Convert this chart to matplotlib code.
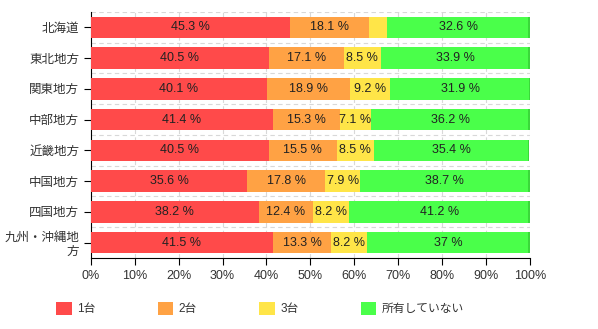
import numpy as np
from matplotlib import pyplot as plt
from matplotlib.patches import Patch

plt.rcParams['font.family'] = ['Liberation Sans', 'Noto Sans CJK JP', 'DejaVu Sans']

# data (percent)
regions = ['北海道', '東北地方', '関東地方', '中部地方', '近畿地方', '中国地方', '四国地方', '九州・沖縄地\n方']
one_car = [45.3, 40.5, 40.1, 41.4, 40.5, 35.6, 38.2, 41.5]
two_cars = [18.1, 17.1, 18.9, 15.3, 15.5, 17.8, 12.4, 13.3]
three_cars = [4.0, 8.5, 9.2, 7.1, 8.5, 7.9, 8.2, 8.2]
no_car = [32.6, 33.9, 31.9, 36.2, 35.4, 38.7, 41.2, 37.0]

series_names = ['1台', '2台', '3台', '所有していない']
colors = ['#ff4a4a', '#ffa244', '#ffe548', '#4aff4a']
edge_colors = ['#e83a3a', '#e88a30', '#e8cc38', '#3ad83a']

fig = plt.figure(figsize=(5.98, 3.29), dpi=100)
ax = fig.add_axes([0.152, 0.216, 0.734, 0.7475])

y_loc = np.arange(len(regions))
left = np.zeros(len(regions))
for vals, col in zip([one_car, two_cars, three_cars, no_car], colors):
    vals = np.array(vals)
    ax.barh(y_loc, vals, height=0.7, left=left, color=col, zorder=3)
    for y, l, v in zip(y_loc, left, vals):
        if v >= 5:
            txt = f'{v:g} %'
            ax.text(l + v / 2, y, txt, ha='center', va='center', fontsize=9, color='#222222', zorder=4)
    left = left + vals

# darker right edge on the last segment (slight 3D look in the original)
ax.barh(y_loc, 0.4, height=0.7, left=left - 0.4, color=edge_colors[3], zorder=3)

ax.set_xlim(0, 100)
ax.set_ylim(len(regions) - 0.5, -0.5)
ax.set_xticks(np.arange(0, 101, 10))
ax.set_xticklabels([f'{t}%' for t in range(0, 101, 10)])
ax.set_yticks(y_loc)
ax.set_yticklabels(regions, multialignment='right')

# dashed grid: vertical at x ticks, horizontal between categories
for x in range(10, 101, 10):
    ax.axvline(x, color='#d8d8d8', linestyle=(0, (4, 3)), linewidth=0.8, zorder=1)
for b in np.arange(-0.5, len(regions) - 0.5, 1):
    ax.axhline(b, color='#d8d8d8', linestyle=(0, (4, 3)), linewidth=0.8, zorder=1)

for s in ['top', 'right']:
    ax.spines[s].set_visible(False)
ax.spines['left'].set_color('black')
ax.spines['bottom'].set_color('black')
ax.tick_params(axis='both', labelsize=9, colors='black', labelcolor='#333333', length=5)

handles = [Patch(facecolor=c) for c in colors]
fig.legend(handles, series_names, loc='center', bbox_to_anchor=(0.435, 0.062), ncol=4,
           frameon=False, fontsize=8.5, labelcolor='#333333', handlelength=1.3, handleheight=1.3,
           columnspacing=5.3, handletextpad=0.45)

plt.savefig('out.png', dpi=100)
